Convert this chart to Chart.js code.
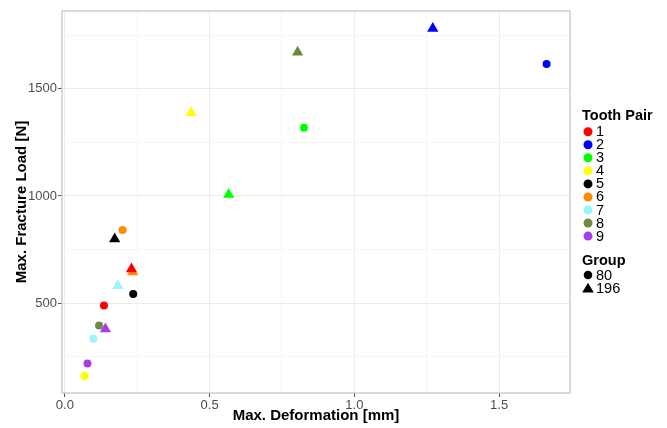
<!DOCTYPE html>
<html>
<head>
<meta charset="utf-8">
<script src="https://cdn.jsdelivr.net/npm/chart.js@4.4.1/dist/chart.umd.min.js"></script>
<style>
  html, body { margin: 0; padding: 0; background: #fff; }
  #wrap { width: 667px; height: 428px; }
</style>
</head>
<body>
<div id="wrap"><canvas id="scatterChart" width="667" height="428"></canvas></div>
<script>
// ================= DATA =================
const toothPairs = ['1', '2', '3', '4', '5', '6', '7', '8', '9'];
const groups = ['80', '196'];

// group 80 (circles)
const deform80 = [0.135, 1.664, 0.826, 0.068, 0.236, 0.199, 0.098, 0.118, 0.078];
const load80   = [489, 1616, 1318, 160, 543, 841, 334, 396, 219];

// group 196 (triangles)
const deform196 = [0.230, 1.271, 0.566, 0.436, 0.172, 0.234, 0.183, 0.804, 0.140];
const load196   = [660, 1781, 1007, 1388, 799, 645, 581, 1670, 379];

const xTicks = [0, 0.25, 0.5, 0.75, 1, 1.25, 1.5];
const xLabels = ['0.0', '', '0.5', '', '1.0', '', '1.5'];
const yTicks = [250, 500, 750, 1000, 1250, 1500, 1750];
const yLabels = ['', '500', '', '1000', '', '1500', ''];

const pairColors = ['#FF0000', '#0000FF', '#00FF00', '#FFFF00', '#000000',
                    '#FF8C00', '#98F5FF', '#6E8B3D', '#A73CEB'];
const groupShapes = ['circle', 'triangle'];

document.addEventListener('DOMContentLoaded', function () {

    const FONT = '"Liberation Sans", Arial, sans-serif';

    // ================= PANEL BORDER + TITLES + LEGEND =================
    const ggExtras = {
        id: 'ggExtras',
        afterDraw(chart) {
            const ctx = chart.ctx;
            const a = chart.chartArea;
            ctx.save();

            // panel border
            ctx.strokeStyle = '#c6c6c6';
            ctx.lineWidth = 1.3;
            ctx.strokeRect(a.left, a.top, a.right - a.left, a.bottom - a.top);

            // axis titles
            ctx.fillStyle = '#000';
            ctx.font = 'bold 15px ' + FONT;
            ctx.textAlign = 'center';
            ctx.textBaseline = 'middle';
            ctx.fillText('Max. Deformation [mm]', (a.left + a.right) / 2, 416);
            ctx.save();
            ctx.translate(22, (a.top + a.bottom) / 2);
            ctx.rotate(-Math.PI / 2);
            ctx.fillText('Max. Fracture Load [N]', 0, 0);
            ctx.restore();

            // legend: tooth pair
            const lx = 582;
            ctx.textAlign = 'left';
            ctx.font = 'bold 14.5px ' + FONT;
            ctx.fillText('Tooth Pair', lx, 116);
            ctx.font = '14.5px ' + FONT;
            toothPairs.forEach((lab, i) => {
                const y = 131.7 + i * 13.05;
                ctx.fillStyle = pairColors[i];
                ctx.beginPath();
                ctx.arc(lx + 6, y, 4.5, 0, Math.PI * 2);
                ctx.fill();
                ctx.fillStyle = '#000';
                ctx.fillText(lab, lx + 14, y + 0.5);
            });

            // legend: group
            ctx.font = 'bold 14.5px ' + FONT;
            ctx.fillText('Group', lx, 261);
            ctx.font = '14.5px ' + FONT;
            groups.forEach((lab, i) => {
                const y = 275 + i * 13.3;
                ctx.fillStyle = '#000';
                ctx.beginPath();
                if (groupShapes[i] === 'circle') {
                    ctx.arc(lx + 6, y, 4.3, 0, Math.PI * 2);
                } else {
                    ctx.moveTo(lx + 6, y - 5.5);
                    ctx.lineTo(lx + 11.8, y + 4.3);
                    ctx.lineTo(lx + 0.2, y + 4.3);
                    ctx.closePath();
                }
                ctx.fill();
                ctx.fillText(lab, lx + 14, y + 0.5);
            });

            ctx.restore();
        }
    };

    // ================= DATASETS =================
    const datasets = toothPairs.map((tp, i) => ({
        label: 'Tooth Pair ' + tp,
        data: [
            { x: deform80[i], y: load80[i] },
            { x: deform196[i], y: load196[i] }
        ],
        pointStyle: groupShapes,
        pointRadius: [4, 6.5],
        backgroundColor: pairColors[i],
        borderColor: pairColors[i],
        borderWidth: 0
    }));

    const gridColor = (ctx, labels, ticks) => {
        const idx = ticks.indexOf(ctx.tick.value);
        return idx >= 0 && labels[idx] !== '' ? '#ebebeb' : '#f5f5f5';
    };
    const tickColor = (ctx, labels, ticks) => {
        const idx = ticks.indexOf(ctx.tick.value);
        return idx >= 0 && labels[idx] !== '' ? '#555' : 'rgba(0,0,0,0)';
    };

    // ================= SCATTER CHART =================
    new Chart(document.getElementById('scatterChart'), {
        type: 'scatter',
        data: { datasets },
        options: {
            responsive: false,
            animation: false,
            layout: {
                padding: { left: 0, right: 97, top: 11, bottom: 0 }
            },
            plugins: {
                legend: { display: false },
                tooltip: { enabled: false }
            },
            scales: {
                x: {
                    type: 'linear',
                    min: -0.01,
                    max: 1.745,
                    afterBuildTicks: s => { s.ticks = xTicks.map(v => ({ value: v })); },
                    afterFit: s => { s.height = 35; },
                    border: { display: false },
                    grid: {
                        color: c => gridColor(c, xLabels, xTicks),
                        tickColor: c => tickColor(c, xLabels, xTicks),
                        tickLength: 4,
                        lineWidth: 1
                    },
                    ticks: {
                        autoSkip: false,
                        maxRotation: 0,
                        padding: 1,
                        color: '#4d4d4d',
                        font: { family: FONT, size: 13 },
                        callback: v => xLabels[xTicks.indexOf(v)] ?? ''
                    }
                },
                y: {
                    type: 'linear',
                    min: 81,
                    max: 1863,
                    afterBuildTicks: s => { s.ticks = yTicks.map(v => ({ value: v })); },
                    afterFit: s => { s.width = 62; },
                    border: { display: false },
                    grid: {
                        color: c => gridColor(c, yLabels, yTicks),
                        tickColor: c => tickColor(c, yLabels, yTicks),
                        tickLength: 4,
                        lineWidth: 1
                    },
                    ticks: {
                        autoSkip: false,
                        padding: 1,
                        color: '#4d4d4d',
                        font: { family: FONT, size: 13 },
                        callback: v => yLabels[yTicks.indexOf(v)] ?? ''
                    }
                }
            }
        },
        plugins: [ggExtras]
    });

});
</script>
</body>
</html>
